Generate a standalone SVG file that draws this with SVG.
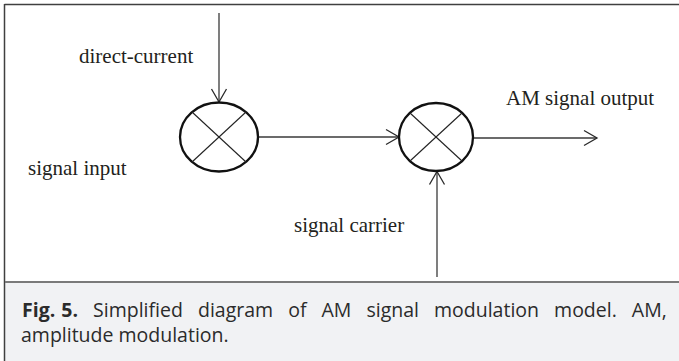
<svg xmlns="http://www.w3.org/2000/svg" width="679" height="361" viewBox="0 0 679 361">
  <style>
    .lbl { font-family: "Liberation Serif", "Times New Roman", serif; font-size: 21px; fill: #231f20; }
    .cap { font-family: "Open Sans", "Noto Sans", sans-serif; font-size: 19.5px; fill: #2b2b2b; }
    .conn { stroke: #3a3a3a; stroke-width: 1.3; fill: none; }
    .mix { stroke: #111; stroke-width: 2.3; fill: #fff; }
    .xline { stroke: #222; stroke-width: 1.1; }
  </style>
  <defs>
    <marker id="arr" markerUnits="userSpaceOnUse" markerWidth="16" markerHeight="18" viewBox="0 0 16 18" refX="14" refY="9" orient="auto">
      <path d="M1,1.5 L14,9 L1,16.5" fill="none" stroke="#2a2a2a" stroke-width="1.3"/>
    </marker>
  </defs>

  <rect x="0" y="0" width="679" height="361" fill="#ffffff"/>
  <rect x="5" y="282" width="674" height="79" fill="#f1f2f4"/>
  <line x1="4.5" y1="4.5" x2="679" y2="4.5" stroke="#404040" stroke-width="1.5"/>
  <line x1="4.5" y1="4" x2="4.5" y2="361" stroke="#404040" stroke-width="1.5"/>
  <line x1="5" y1="282" x2="679" y2="282" stroke="#7a7a7a" stroke-width="2"/>

  <g id="connectors">
    <line class="conn" x1="219" y1="13" x2="219" y2="102" marker-end="url(#arr)"/>
    <line class="conn" x1="258" y1="137" x2="399" y2="137" marker-end="url(#arr)"/>
    <line class="conn" x1="473" y1="138" x2="597" y2="138" marker-end="url(#arr)"/>
    <line class="conn" x1="437" y1="277" x2="437" y2="171.5" marker-end="url(#arr)"/>
  </g>

  <g id="mixer1">
    <ellipse class="mix" cx="219" cy="137" rx="39" ry="34.5"/>
    <line class="xline" x1="192" y1="112" x2="246" y2="162"/>
    <line class="xline" x1="192" y1="162" x2="246" y2="112"/>
  </g>

  <g id="mixer2">
    <ellipse class="mix" cx="436" cy="137" rx="37" ry="34"/>
    <line class="xline" x1="410" y1="113" x2="462" y2="161"/>
    <line class="xline" x1="410" y1="161" x2="462" y2="113"/>
  </g>

  <g id="labels">
    <text class="lbl" x="79" y="63">direct-current</text>
    <text class="lbl" x="28" y="175">signal input</text>
    <text class="lbl" x="506" y="105">AM signal output</text>
    <text class="lbl" x="294" y="232">signal carrier</text>
  </g>

  <g id="caption">
    <text class="cap" x="22" y="317"><tspan font-weight="bold" word-spacing="1">Fig. 5.</tspan><tspan word-spacing="10"> Simplified diagram of AM signal modulation model. AM,</tspan></text>
    <text class="cap" x="21" y="342">amplitude modulation.</text>
  </g>
</svg>
